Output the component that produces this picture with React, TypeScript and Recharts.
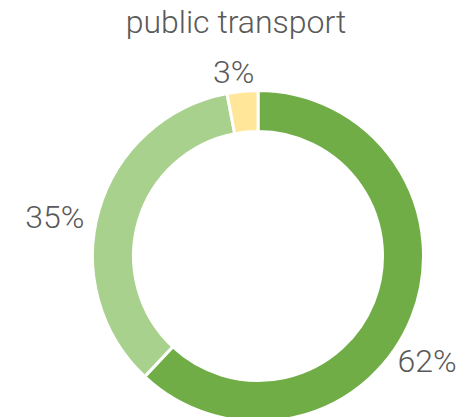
import { Cell, Pie, PieChart } from 'recharts';

const categories = ['62%', '35%', '3%'];
const shares = [62, 35, 3];
const sliceColors = ['#70AD47', '#A9D18E', '#FFE699'];
const title = 'public transport';

// label placement tweaks (angle shift in degrees, distance from centre)
const labelLayout = [
  { shift: -10.2, dist: 199 },
  { shift: 5.2, dist: 207 },
  { shift: 2.1, dist: 186 }
];

const RAD = Math.PI / 180;

const data = categories.map((name, i) => ({ name, value: shares[i] }));

const renderLabel = (props: any) => {
  const { cx, cy, midAngle, index } = props;
  const { shift, dist } = labelLayout[index];
  const a = (midAngle + shift) * RAD;
  const x = cx + dist * Math.cos(a);
  const y = cy - dist * Math.sin(a);
  return (
    <text
      x={x}
      y={y}
      textAnchor="middle"
      dominantBaseline="central"
      fill="#595959"
      fontSize={32}
      fontWeight={300}
      fontFamily="Roboto, sans-serif"
    >
      {categories[index]}
    </text>
  );
};

export default function App() {
  return (
    <div style={{ position: 'absolute', left: 0, top: 0, width: 460, height: 417, background: '#fff' }}>
      <div
        style={{
          position: 'absolute',
          left: 0,
          top: 0,
          width: 472,
          textAlign: 'center',
          fontFamily: 'Roboto, sans-serif',
          fontWeight: 300,
          fontSize: 32,
          lineHeight: '44px',
          color: '#595959'
        }}
      >
        {title}
      </div>
      <PieChart width={460} height={417} style={{ position: 'absolute', left: 0, top: 0 }}>
        <Pie
          data={data}
          dataKey="value"
          nameKey="name"
          cx={253}
          cy={251}
          innerRadius={124.5}
          outerRadius={165.5}
          startAngle={90}
          endAngle={-270}
          stroke="#ffffff"
          strokeWidth={3}
          label={renderLabel}
          labelLine={false}
          isAnimationActive={false}
        >
          {data.map((d, i) => (
            <Cell key={d.name} fill={sliceColors[i]} />
          ))}
        </Pie>
      </PieChart>
    </div>
  );
}
